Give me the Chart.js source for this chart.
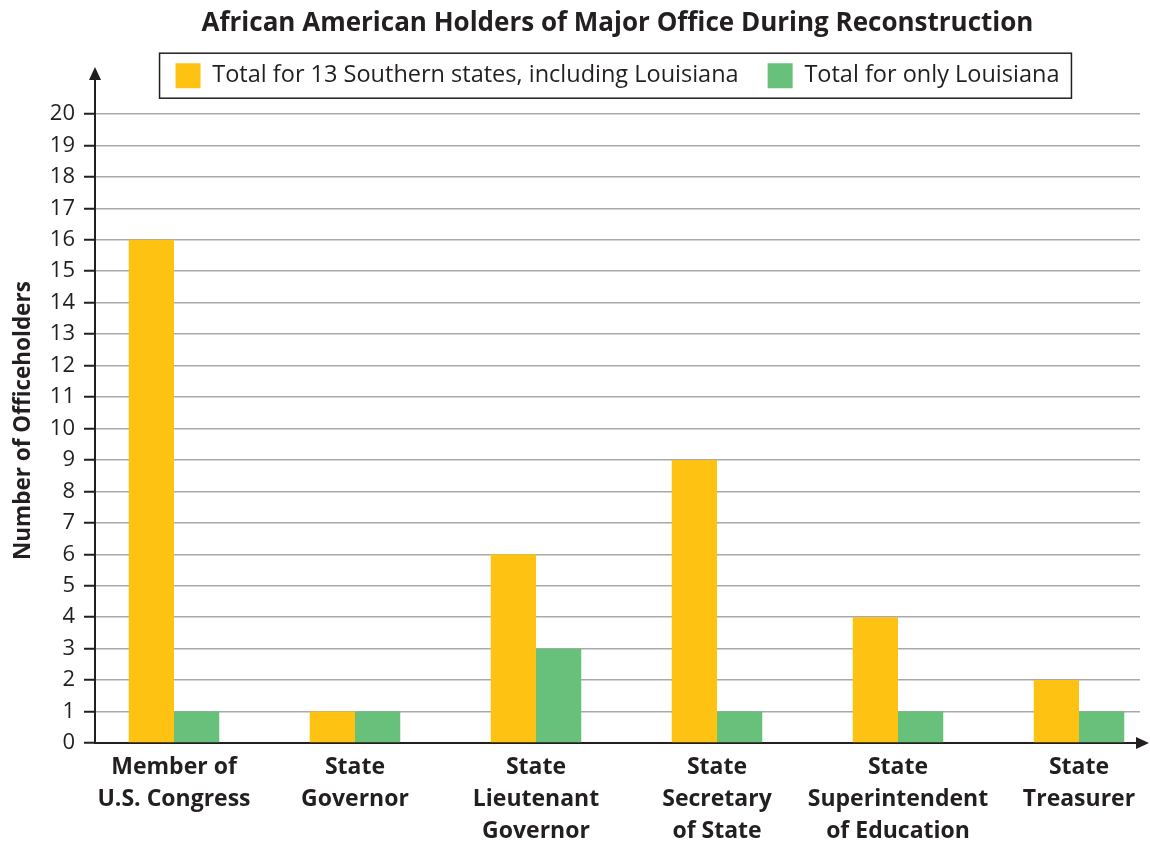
<!DOCTYPE html>
<html>
<head>
<meta charset="utf-8">
<script src="https://cdn.jsdelivr.net/npm/chart.js@4.4.1/dist/chart.umd.min.js"></script>
<style>
  html, body { margin: 0; padding: 0; background: #fff; }
  #wrap { width: 1150px; height: 841px; }
</style>
</head>
<body>
<div id="wrap"><canvas id="chart" width="1150" height="841"></canvas></div>
<script>
// data
const offices = [
  ["Member of", "U.S. Congress"],
  ["State", "Governor"],
  ["State", "Lieutenant", "Governor"],
  ["State", "Secretary", "of State"],
  ["State", "Superintendent", "of Education"],
  ["State", "Treasurer"]
];
const southTotals = [16, 1, 6, 9, 4, 2];
const louisianaTotals = [1, 1, 3, 1, 1, 1];
const yTicks = [0, 1, 2, 3, 4, 5, 6, 7, 8, 9, 10, 11, 12, 13, 14, 15, 16, 17, 18, 19, 20];

const FONT = "'Open Sans', 'DejaVu Sans', sans-serif";
const INK = "#231f20";
const YELLOW = "#fec212";
const GREEN = "#67c17a";

const toPoints = (vals) => vals.map((v, i) => ({ x: i, y: v }));

// frame around legend + axis arrows
const decor = {
  id: "decor",
  afterDraw(chart) {
    const { ctx, chartArea: a, legend } = chart;
    ctx.save();
    // legend frame
    if (legend && legend.legendHitBoxes?.length) {
      const hb = legend.legendHitBoxes;
      const l = Math.min(...hb.map(b => b.left)) - 16;
      const r = Math.max(...hb.map(b => b.left + b.width)) + 12;
      const t = Math.min(...hb.map(b => b.top)) - 10;
      const btm = Math.max(...hb.map(b => b.top + b.height)) + 10;
      ctx.strokeStyle = INK;
      ctx.lineWidth = 1.5;
      ctx.strokeRect(l, t, r - l, btm - t);
    }
    // y axis extension + arrow
    ctx.strokeStyle = INK;
    ctx.fillStyle = INK;
    ctx.lineWidth = 2;
    ctx.beginPath();
    ctx.moveTo(a.left, a.top);
    ctx.lineTo(a.left, 78);
    ctx.stroke();
    ctx.beginPath();
    ctx.moveTo(a.left, 67);
    ctx.lineTo(a.left - 6, 80);
    ctx.lineTo(a.left + 6, 80);
    ctx.closePath();
    ctx.fill();
    // x arrow
    ctx.beginPath();
    ctx.moveTo(a.right + 9, a.bottom);
    ctx.lineTo(a.right - 4, a.bottom - 6);
    ctx.lineTo(a.right - 4, a.bottom + 6);
    ctx.closePath();
    ctx.fill();
    ctx.restore();
  }
};

new Chart(document.getElementById("chart"), {
  type: "bar",
  data: {
    datasets: [
      { label: "Total for 13 Southern states, including Louisiana", data: toPoints(southTotals), backgroundColor: YELLOW, borderWidth: 0 },
      { label: "Total for only Louisiana", data: toPoints(louisianaTotals), backgroundColor: GREEN, borderWidth: 0 }
    ]
  },
  options: {
    responsive: false,
    animation: false,
    devicePixelRatio: 1,
    layout: { padding: { top: 0, right: 10, bottom: 0, left: 0 } },
    datasets: { bar: { categoryPercentage: 0.5, barPercentage: 1.0 } },
    plugins: {
      tooltip: { enabled: false },
      title: {
        display: true,
        fullSize: false,
        text: "African American Holders of Major Office During Reconstruction",
        color: INK,
        font: { family: FONT, size: 26, weight: "bold" },
        padding: { top: 8, bottom: -5 }
      },
      legend: {
        display: true,
        fullSize: false,
        labels: {
          color: INK,
          font: { family: FONT, size: 23.5 },
          boxWidth: 25,
          boxHeight: 25,
          padding: 29
        }
      }
    },
    scales: {
      x: {
        type: "linear",
        min: -0.4365,
        max: 5.337,
        offset: false,
        afterBuildTicks: (s) => { s.ticks = offices.map((_, i) => ({ value: i })); },
        afterFit: (s) => { s.height = 98; },
        grid: { display: false, drawTicks: false },
        border: { display: true, color: INK, width: 2 },
        ticks: {
          autoSkip: false,
          maxRotation: 0,
          padding: 9,
          color: INK,
          font: { family: FONT, size: 23, weight: "bold", lineHeight: 1.38 },
          callback: (v) => offices[v] ?? ""
        }
      },
      y: {
        min: 0,
        max: 20.5,
        afterBuildTicks: (s) => { s.ticks = yTicks.map(v => ({ value: v })); },
        afterFit: (s) => { s.width = 95; },
        grid: { color: "#a9a9a9", lineWidth: 1.5, tickLength: 11, tickColor: INK, tickWidth: 2 },
        border: { display: true, color: INK, width: 2 },
        ticks: {
          color: INK,
          padding: 9,
          font: { family: FONT, size: 22 }
        },
        title: {
          display: true,
          text: "Number of Officeholders",
          color: INK,
          font: { family: FONT, size: 22.5, weight: "bold" },
          padding: { top: 10, bottom: 0 }
        }
      }
    }
  },
  plugins: [decor]
});
</script>
</body>
</html>
